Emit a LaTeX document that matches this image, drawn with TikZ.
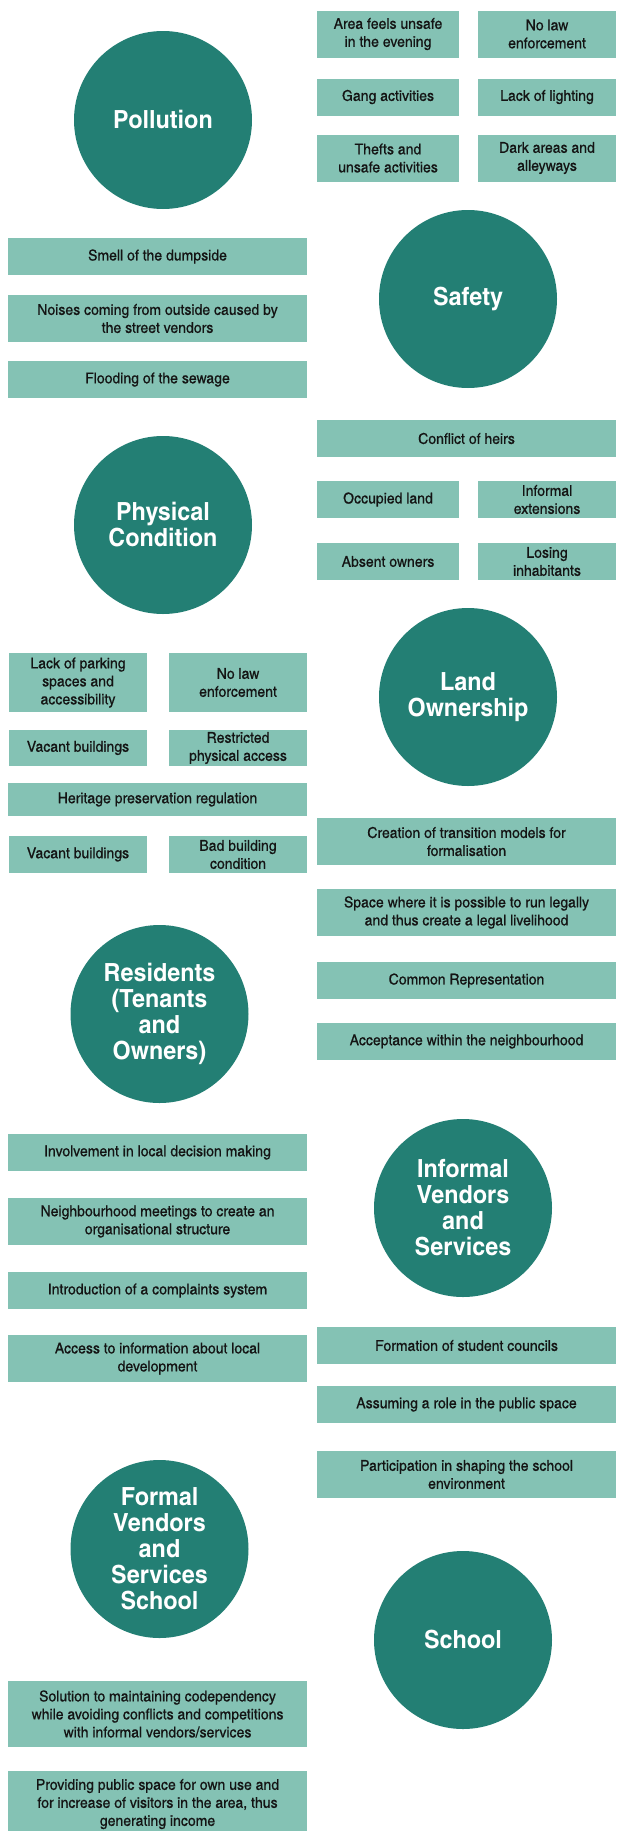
\documentclass[tikz,border=0pt]{standalone}
\usepackage{fontspec}
\setmainfont{TeX Gyre Heros Cn}[FakeStretch=1.14,
  UprightFeatures={FakeBold=0.6}]
\usepackage{tikz}
\usetikzlibrary{positioning}
\definecolor{kreisgruen}{HTML}{237F74}
\definecolor{feldgruen}{HTML}{84C2B4}
\definecolor{schrift}{HTML}{141414}

\begin{document}
\begin{tikzpicture}[
        x=1pt, y=-1pt,
        kreis/.style={circle, fill=kreisgruen, minimum size=178pt, inner sep=0pt,
          text=white, align=center, font=\fontsize{25}{26}\selectfont\bfseries},
        feld/.style={rectangle, fill=feldgruen, inner sep=0pt, text=schrift,
          align=center, minimum height=37pt, font=\fontsize{15}{18}\selectfont},
        breit/.style={feld, minimum width=299pt},
        halbl/.style={feld, minimum width=142pt},
        halbr/.style={feld, minimum width=138pt},
        hoch/.style={minimum height=47pt},
      ]
      \clip (0,0) rectangle (616,1831);

      % Kreise links
      \node[kreis] (pollution) at (163,120) {Pollution};
      \node[kreis] (physical) at (163,525) {Physical\\Condition};
      \node[kreis] (residents) at (159.5,1014) {Residents\\(Tenants\\and\\Owners)};
      \node[kreis] (formal) at (159.5,1549) {Formal\\Vendors\\and\\Services\\School};

      % Kreise rechts
      \node[kreis] (safety) at (468,299) {Safety};
      \node[kreis] (land) at (468,697) {Land\\Ownership};
      \node[kreis] (informal) at (463,1208) {Informal\\Vendors\\and\\Services};
      \node[kreis] (school) at (463,1640) {School};

      % Felder oben rechts
      \node[halbl, hoch] (unsafe) at (388,34) {Area feels unsafe\\in the evening};
      \node[halbr, hoch] (nolaw) at (547,34) {No law\\enforcement};
      \node[halbl] (gang) at (388,97) {Gang activities};
      \node[halbr] (lighting) at (547,97) {Lack of lighting};
      \node[halbl, hoch] (thefts) at (388,158) {Thefts and\\unsafe activities};
      \node[halbr, hoch] (dark) at (547,158) {Dark areas and\\alleyways};

      % Felder links
      \node[breit] (smell) at (157.5,256.5) {Smell of the dumpside};
      \node[breit, hoch] (noises) at (157.5,318.5) {Noises coming from outside caused by\\the street vendors};
      \node[breit] (flooding) at (157.5,379.5) {Flooding of the sewage};

      % Felder rechts
      \node[breit] (heirs) at (466.5,438.5) {Conflict of heirs};
      \node[halbl] (occupied) at (388,499.5) {Occupied land};
      \node[halbr] (extensions) at (547,499.5) {Informal\\extensions};
      \node[halbl] (absent) at (388,561.5) {Absent owners};
      \node[halbr] (losing) at (547,561.5) {Losing\\inhabitants};

      % Felder links
      \node[halbr, minimum height=59pt] (parking) at (78,682.5) {Lack of parking\\spaces and\\accessibility};
      \node[halbr, minimum height=59pt] (nolawb) at (238,682.5) {No law\\enforcement};
      \node[halbr, minimum height=36pt] (vacant) at (78,748) {Vacant buildings};
      \node[halbr, minimum height=36pt] (access) at (238,748) {Restricted\\physical access};
      \node[breit, minimum height=33pt] (heritage) at (157.5,799.5) {Heritage preservation regulation};
      \node[halbr] (vacantb) at (78,854.5) {Vacant buildings};
      \node[halbr] (bad) at (238,854.5) {Bad building\\condition};

      % Felder rechts
      \node[breit, hoch] (transition) at (466.5,841.5) {Creation of transition models for\\formalisation};
      \node[breit, hoch] (legal) at (466.5,912.5) {Space where it is possible to run legally\\and thus create a legal livelihood};
      \node[breit] (common) at (466.5,980.5) {Common Representation};
      \node[breit] (acceptance) at (466.5,1041.5) {Acceptance within the neighbourhood};

      % Felder links
      \node[breit] (involvement) at (157.5,1152.5) {Involvement in local decision making};
      \node[breit, hoch] (meetings) at (157.5,1221.5) {Neighbourhood meetings to create an\\organisational structure};
      \node[breit] (complaints) at (157.5,1290.5) {Introduction of a complaints system};
      \node[breit, hoch] (information) at (157.5,1358.5) {Access to information about local\\development};

      % Felder rechts
      \node[breit] (councils) at (466.5,1345.5) {Formation of student councils};
      \node[breit] (role) at (466.5,1404.5) {Assuming a role in the public space};
      \node[breit, hoch] (shaping) at (466.5,1474.5) {Participation in shaping the school\\environment};

      % Felder unten links
      \node[breit, minimum height=66pt] (solution) at (157.5,1714) {Solution to maintaining codependency\\while avoiding conflicts and competitions\\with informal vendors/services};
      \node[breit, minimum height=66pt] (providing) at (157.5,1804) {Providing public space for own use and\\for increase of visitors in the area, thus\\generating income};
    \end{tikzpicture}
\end{document}
